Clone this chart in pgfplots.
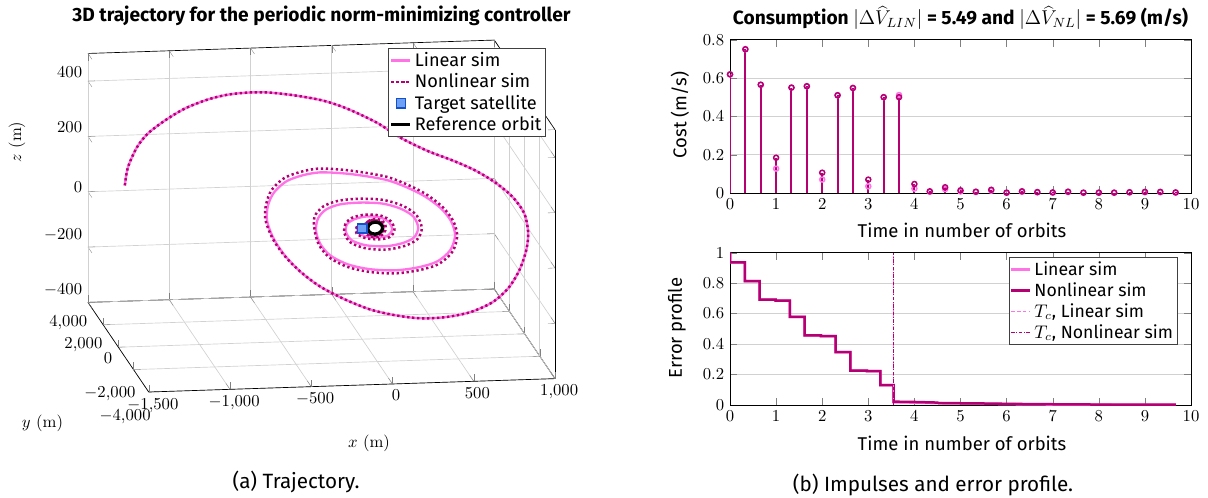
\documentclass[border=0pt]{standalone}
\usepackage{fontspec}
\usepackage{pgfplots}
\pgfplotsset{compat=1.18}
\newfontfamily\fira{Fira Sans}
\newcommand\sfs{\fira\fontsize{11.1}{12.5}\selectfont}
\newcommand\sfl{\fira\fontsize{10.9}{12.5}\selectfont}
\newcommand\sfb{\fira\fontsize{10.6}{12}\selectfont}
\newcommand\sft{\fira\fontsize{11.5}{13}\selectfont}
\definecolor{linc}{RGB}{255,115,230}
\definecolor{nlc}{RGB}{180,0,115}
\definecolor{tgtfill}{RGB}{110,160,245}
\definecolor{tgtdraw}{RGB}{20,80,200}
\pgfplotsset{
  mylegend/.style={legend cell align=left,
    legend style={font=\sfl, draw=black!75, inner sep=0.6pt, row sep=-0.6pt, nodes={inner sep=1.7pt}},
    legend image code/.code={\draw[mark repeat=2,mark phase=2] plot coordinates {(0cm,0cm) (0.2cm,0cm) (0.4cm,0cm)};}},
}
\begin{document}
\begin{tikzpicture}
\useasboundingbox (0pt,0pt) rectangle (724.8pt,-298.2pt);
% ---------------- 3D trajectory ----------------
\begin{axis}[
  at={(52.8pt,-235.2pt)}, anchor=south west,
  width=280.2pt, height=211.2pt, scale only axis,
  view={-8.5}{20},
  xmin=-1500, xmax=1000, ymin=-4000, ymax=4000, zmin=-400, zmax=500,
  xtick={-1500,-1000,...,1000}, ytick={-4000,-2000,...,4000}, ztick={-400,-200,...,400},
  grid=major, major grid style={black!18},
  mylegend, legend style={at={(0.98,0.98)}, anchor=north east, yshift=-0.6pt},
]
\addplot3[linc, line width=1.4pt, smooth] coordinates {
(-1390,1500,122) (-1371,1500,187) (-1316,1500,258) (-1248,1500,307) (-1143,1500,352)
(-1020,1500,393) (-878,1500,423) (-755,1500,438) (-632,1500,443) (-509,1500,441)
(-343,1500,427) (-170,1500,405) (-22,1500,373)
(45,-1000,422) (187,-1000,366) (353,-1000,315) (513,-1000,276) (649,-1000,238)
(772,-1000,192) (877,-1000,139) (951,-1000,77) (975,-1000,7) (963,-1000,-57)
(920,-1000,-129) (852,-1000,-192) (754,-1000,-241) (618,-1000,-274) (464,-1000,-289)
(310,-1000,-290) (156,-1000,-276) (2,-1000,-252) (-152,-1000,-213) (-306,-1000,-163)
(-429,-1000,-106) (-527,-1000,-43) (-595,-1000,20) (-632,-1000,82)
(-579,0,95) (-542,0,141) (-468,0,179) (-370,0,199) (-259,0,208) (-105,0,201)
(31,0,188) (160,0,171) (277,0,143) (388,0,108) (486,0,63) (548,0,15) (572,0,-36)
(542,0,-89) (462,0,-128) (345,0,-147) (203,0,-155) (49,0,-148) (-87,0,-128)
(-197,0,-93) (-259,0,-49) (-284,0,-1)
(-271,0,42) (-222,0,73) (-136,0,90) (-13,0,94) (123,0,88) (234,0,68) (314,0,38)
(345,0,-3) (320,0,-38) (246,0,-58) (141,0,-67) (24,0,-61) (-62,0,-42) (-99,0,-12)
(-93,0,17)
(-50,0,34) (24,0,43) (111,0,38) (166,0,19) (185,0,-7) (160,0,-28) (98,0,-34)
(24,0,-29) (-25,0,-14) (-25,0,5) (12,0,15)
(54,0,22) (80,0,26) (106,0,22) (125,0,13) (132,0,0) (125,0,-13) (106,0,-22)
(80,0,-26) (54,0,-22) (35,0,-13) (28,0,0) (35,0,13) (54,0,22)
};
\addlegendentry{Linear sim}
\addplot3[nlc, line width=1.5pt, dash pattern=on 1.4pt off 1.6pt, smooth] coordinates {
(-1390,1500,122) (-1371,1500,187) (-1316,1500,258) (-1248,1500,307) (-1143,1500,352)
(-1020,1500,393) (-878,1500,423) (-755,1500,438) (-632,1500,443) (-509,1500,441)
(-343,1500,427) (-170,1500,405) (-22,1500,373)
(45,-1000,422) (187,-1000,366) (353,-1000,315) (513,-1000,276) (649,-1000,238)
(772,-1000,192) (877,-1000,139) (951,-1000,77) (975,-1000,7) (963,-1000,-57)
(920,-1000,-129) (852,-1000,-192) (754,-1000,-241) (618,-1000,-274) (464,-1000,-289)
(310,-1000,-290) (156,-1000,-276) (2,-1000,-252) (-152,-1000,-213) (-306,-1000,-163)
(-429,-1000,-106) (-530,-1000,-44) (-601,-1000,20) (-642,-1000,85)
(-591,0,99) (-557,0,150) (-481,0,191) (-380,0,212) (-266,0,222) (-109,0,214)
(31,0,200) (163,0,182) (283,0,152) (397,0,115) (497,0,67) (561,0,16) (585,0,-39)
(555,0,-95) (473,0,-137) (353,0,-157) (207,0,-166) (49,0,-158) (-90,0,-137)
(-203,0,-100) (-266,0,-53) (-292,0,-2)
(-293,0,48) (-240,0,84) (-148,0,103) (-16,0,108) (129,0,101) (248,0,78) (333,0,43)
(367,0,-5) (340,0,-45) (261,0,-68) (148,0,-79) (23,0,-72) (-69,0,-50) (-109,0,-15)
(-102,0,19)
(-62,0,40) (20,0,50) (117,0,44) (178,0,22) (199,0,-9) (171,0,-34) (102,0,-41)
(20,0,-35) (-34,0,-17) (-34,0,5)
(23,0,17) (47,0,29) (80,0,33) (113,0,29) (137,0,17) (146,0,0) (137,0,-17)
(113,0,-29) (80,0,-33) (47,0,-29) (23,0,-17) (14,0,0) (23,0,17) (47,0,29)
(80,0,28) (109,0,24) (130,0,14) (138,0,0) (130,0,-14) (109,0,-24) (80,0,-28)
(51,0,-24) (30,0,-14) (22,0,0) (30,0,14) (51,0,24) (80,0,28)
};
\addlegendentry{Nonlinear sim}
\addplot3[only marks, mark=square*, mark size=2.8pt, mark options={fill=tgtfill, draw=tgtdraw, line width=0.9pt},
  legend image code/.code={\draw[mark=square*, mark size=2.8pt, mark options={fill=tgtfill, draw=tgtdraw, line width=0.9pt}] plot coordinates {(0.2cm,0cm)};}] coordinates {(0,0,0)};
\addlegendentry{Target satellite}
\addplot3[black, line width=2pt, smooth] coordinates {
(126,0,0) (120,0,11) (103,0,19) (80,0,22) (57,0,19) (40,0,11) (34,0,0)
(40,0,-11) (57,0,-19) (80,0,-22) (103,0,-19) (120,0,-11) (126,0,0)
};
\addlegendentry{Reference orbit}
\end{axis}
\node[font=\sft\bfseries] at (192.9pt,-9.6pt) {3D trajectory for the periodic norm-minimizing controller};
\node at (221.4pt,-265.8pt) {$x$ (m)};
\node at (25.5pt,-253.8pt) {$y$ (m)};
\node[rotate=90] at (10.2pt,-85.2pt) {$z$ (m)};
\node[font=\fira\fontsize{12.4}{14}\selectfont] at (177.6pt,-289.2pt) {(a) Trajectory.};
% ---------------- Impulses ----------------
\pgfplotstableread{
t lin nl
0      0.619 0.619
0.3333 0.750 0.750
0.6667 0.565 0.565
1      0.127 0.184
1.3333 0.550 0.550
1.6667 0.557 0.557
2      0.070 0.106
2.3333 0.510 0.510
2.6667 0.548 0.548
3      0.035 0.070
3.3333 0.500 0.500
3.6667 0.511 0.500
4      0.023 0.047
4.3333 0.006 0.009
4.6667 0.020 0.030
5      0.008 0.014
5.3333 0.005 0.007
5.6667 0.012 0.017
6      0.001 0.002
6.3333 0.006 0.009
6.6667 0.003 0.005
7      0.002 0.003
7.3333 0.005 0.007
7.6667 0.001 0.002
8      0.001 0.002
8.3333 0.001 0.002
8.6667 0.003 0.004
9      0.004 0.006
9.3333 0.004 0.006
9.6667 0.002 0.003
}\impulses
\begin{axis}[
  at={(438pt,-115.8pt)}, anchor=south west,
  width=276.6pt, height=92pt, scale only axis,
  xmin=0, xmax=10, ymin=0, ymax=0.8,
  xtick={0,1,...,10}, ytick={0,0.2,0.4,0.6,0.8},
  ymajorgrids, major grid style={black!18},
]
\addplot[linc, ycomb, line width=1.2pt, no marks] table[x=t, y=lin] {\impulses};
\addplot[linc, only marks, mark=o, mark size=1.5pt, mark options={line width=0.9pt}] table[x=t, y=lin] {\impulses};
\addplot[nlc, ycomb, line width=1.2pt, no marks] table[x=t, y=nl] {\impulses};
\addplot[nlc, only marks, mark=o, mark size=1.5pt, mark options={line width=0.9pt}] table[x=t, y=nl] {\impulses};
\end{axis}
\node[font=\sft\bfseries] at (576.3pt,-10.8pt) {Consumption $|\Delta\widehat{V}_{LIN}|$ = 5.49 and $|\Delta\widehat{V}_{NL}|$ = 5.69 (m/s)};
\node[font=\sfs, rotate=90] at (408pt,-69pt) {Cost (m/s)};
\node[font=\sfs] at (577.2pt,-138pt) {Time in number of orbits};
% ---------------- Error profile ----------------
\begin{axis}[
  at={(438pt,-243pt)}, anchor=south west,
  width=276.6pt, height=91.4pt, scale only axis,
  xmin=0, xmax=10, ymin=0, ymax=1,
  xtick={0,1,...,10}, ytick={0,0.2,0.4,0.6,0.8,1},
  ymajorgrids, major grid style={black!18},
  mylegend, legend pos=north east, legend style={font=\sfb},
]
\addplot[linc, line width=1.5pt] coordinates {
(0,1) (0,0.937) (0.32,0.937) (0.32,0.813) (0.64,0.813) (0.64,0.692) (0.99,0.692)
(0.99,0.686) (1.3,0.686) (1.3,0.578) (1.62,0.578) (1.62,0.457) (1.97,0.457)
(1.97,0.453) (2.29,0.453) (2.29,0.347) (2.61,0.347) (2.61,0.226) (2.97,0.226)
(2.97,0.223) (3.26,0.223) (3.26,0.13) (3.55,0.13) (3.55,0.018) (4,0.016)
(4.5,0.012) (5.5,0.008) (6.2,0.005) (7,0.003) (8,0.002) (9,0.001) (9.67,0.001)
};
\addlegendentry{Linear sim}
\addplot[nlc, line width=1.5pt] coordinates {
(0,1) (0,0.937) (0.32,0.937) (0.32,0.813) (0.64,0.813) (0.64,0.692) (0.99,0.692)
(0.99,0.686) (1.3,0.686) (1.3,0.578) (1.62,0.578) (1.62,0.457) (1.97,0.457)
(1.97,0.453) (2.29,0.453) (2.29,0.347) (2.61,0.347) (2.61,0.226) (2.97,0.226)
(2.97,0.223) (3.26,0.223) (3.26,0.13) (3.55,0.13) (3.55,0.022) (4,0.02)
(4.5,0.016) (4.52,0.013) (5.5,0.01) (6.2,0.007) (7,0.005) (8,0.003) (9,0.002) (9.67,0.002)
};
\addlegendentry{Nonlinear sim}
\addplot[linc, line width=0.7pt, dash pattern=on 2pt off 1.5pt] coordinates {(3.55,0) (3.55,1)};
\addlegendentry{$T_c$, Linear sim}
\addplot[nlc, line width=0.7pt, dash pattern=on 2pt off 1pt on 0.5pt off 1pt] coordinates {(3.55,0) (3.55,1)};
\addlegendentry{$T_c$, Nonlinear sim}
\end{axis}
\node[font=\sfs, rotate=90] at (406.2pt,-196.8pt) {Error profile};
\node[font=\sfs] at (577.2pt,-265.8pt) {Time in number of orbits};
\node[font=\fira\fontsize{12.4}{14}\selectfont] at (559.8pt,-291pt) {(b) Impulses and error profile.};
\end{tikzpicture}
\end{document}
